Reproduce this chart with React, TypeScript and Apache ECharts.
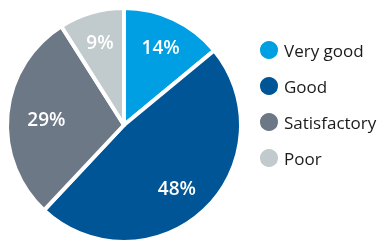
import React, { useEffect, useRef } from "react";
import * as echarts from "echarts";

const categories = ["Very good", "Good", "Satisfactory", "Poor"];
const values = [14, 48, 29, 9];
const colors = ["#009fe3", "#005596", "#6d7887", "#c1cacd"];

export default function App() {
  const ref = useRef<HTMLDivElement>(null);
  useEffect(() => {
    if (!ref.current) return;
    const chart = echarts.init(ref.current, null, { renderer: "svg" });
    const data = categories.map((name, i) => ({
      name,
      value: values[i],
      itemStyle: { color: colors[i] },
    }));
    const labelOffsets: Record<string, number[]> = {
      Good: [-6, 0],
      Satisfactory: [8, 2],
    };
    chart.setOption({
      animation: false,
      legend: {
        orient: "vertical",
        left: 253,
        top: 34,
        icon: "circle",
        itemWidth: 20,
        itemHeight: 20,
        itemGap: 14,
        data: categories,
        textStyle: { fontSize: 17, color: "#1a1a1a", fontFamily: "Open Sans" },
      },
      series: [
        {
          type: "pie",
          center: [124, 125],
          radius: [0, 117],
          startAngle: 90,
          clockwise: true,
          silent: true,
          data,
          itemStyle: { borderColor: "#ffffff", borderWidth: 4 },
          label: { show: false },
          labelLine: { show: false },
        },
        {
          type: "pie",
          center: [124, 125],
          radius: [52, 114],
          startAngle: 90,
          clockwise: true,
          silent: true,
          data: data.map((d) => ({
            ...d,
            itemStyle: { color: "transparent" },
            label: labelOffsets[d.name] ? { offset: labelOffsets[d.name] } : {},
          })),
          label: {
            show: true,
            position: "inside",
            formatter: "{c}%",
            color: "#ffffff",
            fontSize: 19,
            fontWeight: 600,
            fontFamily: "Open Sans",
          },
          labelLine: { show: false },
        },
      ],
    });
    return () => chart.dispose();
  }, []);
  return (
    <div
      ref={ref}
      style={{ position: "fixed", left: 0, top: 0, width: 379, height: 240 }}
    />
  );
}
